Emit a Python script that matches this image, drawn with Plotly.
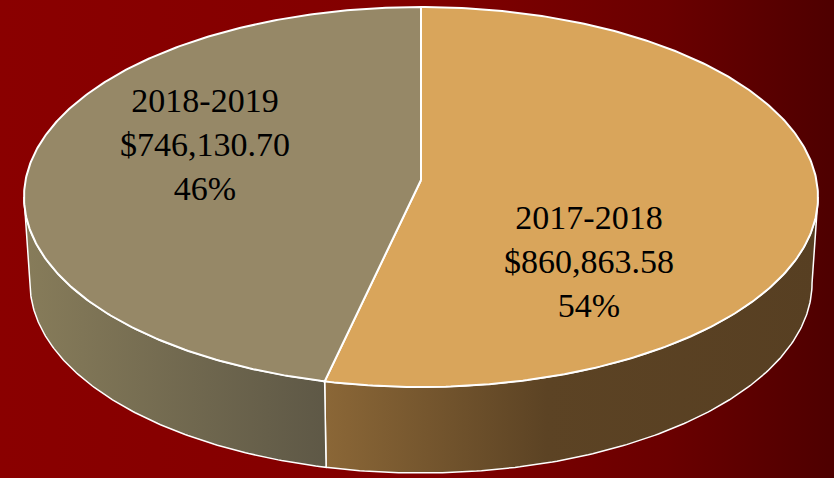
import numpy as np
import plotly.graph_objects as go

# ---- data ----
categories = ["2017-2018", "2018-2019"]
values = [860863.58, 746130.70]

top_colors = ["#D9A55B", "#968867"]
side_scales = [
    [[0, "#8B6737"], [0.45, "#5C4324"], [1, "#573F22"]],
    [[0, "#877C5A"], [1, "#5E5846"]],
]

# ---- geometry (pixel space of the 834x478 canvas) ----
W, H = 834, 478
cx = 421                   # horizontal centre
y_far, y_near = 7, 387     # far (top) and near (bottom) edge of top face
y_apex = 180               # projected centre of the top face (perspective)
half_w = 397               # half width of top face
depth = 86
shrink = 0.985             # bottom face slightly narrower (perspective)

# projective mapping of the unit circle: Y = (C - B v)/(1 + k v), X = cx + A u/(1 + k v)
C = y_apex
k = (y_far + y_near - 2 * C) / (y_near - y_far)
B = C - y_far * (1 + k)
A = half_w * np.sqrt(1 - k ** 2)


def proj(t, dy=0.0, s=1.0):
    u, v = np.sin(t), np.cos(t)
    d = 1 + k * v
    return cx + s * A * u / d, (C - B * v) / d + dy


total = sum(values)
fracs = [v / total for v in values]
starts = np.cumsum([0] + fracs[:-1]) * 2 * np.pi
ends = np.cumsum(fracs) * 2 * np.pi
vis0 = np.arccos(-k)              # silhouette angles of the side wall
vis1 = 2 * np.pi - vis0

fig = go.Figure()

# background gradient
fig.add_trace(go.Scatter(
    x=[0, W, W, 0, 0], y=[0, 0, H, H, 0], mode="none", fill="toself",
    fillgradient=dict(type="horizontal",
                      colorscale=[[0, "#8A0000"], [0.5, "#820000"], [0.8, "#6A0000"], [1, "#4E0000"]]),
    hoverinfo="skip", showlegend=False))

# side walls (visible front part)
for i in range(len(values)):
    a0 = max(starts[i], vis0)
    a1 = min(ends[i], vis1)
    if a1 <= a0:
        continue
    t = np.linspace(a0, a1, 150)
    xt, yt = proj(t)
    xb, yb = proj(t[::-1], depth, shrink)
    xs = np.concatenate([xt, xb, xt[:1]])
    ys = np.concatenate([yt, yb, yt[:1]])
    fig.add_trace(go.Scatter(
        x=xs, y=ys, mode="lines", fill="toself",
        line=dict(color="white", width=1.5),
        fillgradient=dict(type="horizontal", colorscale=side_scales[i]),
        hoverinfo="skip", showlegend=False))

# top faces
for i in range(len(values)):
    t = np.linspace(starts[i], ends[i], 300)
    xt, yt = proj(t)
    xs = np.concatenate([[cx], xt, [cx]])
    ys = np.concatenate([[C], yt, [C]])
    fig.add_trace(go.Scatter(
        x=xs, y=ys, mode="lines", fill="toself", fillcolor=top_colors[i],
        line=dict(color="white", width=2),
        name=categories[i], hoverinfo="name", showlegend=False))

# labels
label_pos = [(589, 261), (205, 144)]
for i in range(len(values)):
    txt = f"{categories[i]}<br>${values[i]:,.2f}<br>{round(fracs[i] * 100)}%"
    fig.add_annotation(x=label_pos[i][0], y=label_pos[i][1], text=txt,
                       showarrow=False, xanchor="center", yanchor="middle",
                       font=dict(family="Liberation Serif", size=34, color="black"))

fig.update_xaxes(range=[0, W], visible=False, fixedrange=True)
fig.update_yaxes(range=[H, 0], visible=False, fixedrange=True)
fig.update_layout(width=W, height=H, margin=dict(l=0, r=0, t=0, b=0),
                  paper_bgcolor="#7A0000", plot_bgcolor="#7A0000")

fig.write_html("out.html", config={"displayModeBar": False},
               post_script="document.body.style.margin='0';document.body.style.overflow='hidden';")
